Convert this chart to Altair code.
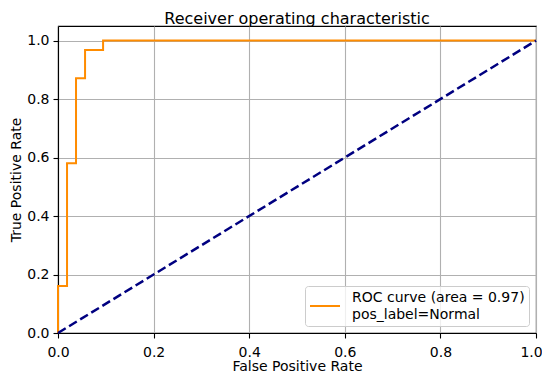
import altair as alt
import pandas as pd

fpr = [0.0, 0.0, 0.0189, 0.0189, 0.0377, 0.0377, 0.0566, 0.0566, 0.0943, 0.0943, 1.0]
tpr = [0.0, 0.161, 0.161, 0.581, 0.581, 0.871, 0.871, 0.968, 0.968, 1.0, 1.0]
diag_x = [0.0, 1.0]
diag_y = [0.0, 1.0]
roc_label = "ROC curve (area = 0.97)|pos_label=Normal"
ticks = [0.0, 0.2, 0.4, 0.6, 0.8, 1.0]

roc = pd.DataFrame({"fpr": fpr, "tpr": tpr, "i": list(range(len(fpr))), "series": roc_label})
diag = pd.DataFrame({"fpr": diag_x, "tpr": diag_y, "i": [0, 1]})

FONT = "DejaVu Sans"

xscale = alt.Scale(domain=[0, 1], nice=False, zero=False)
yscale = alt.Scale(domain=[0, 1.05], nice=False, zero=False)

xaxis = alt.Axis(
    title="False Positive Rate", values=ticks, format=".1f", grid=True, labelFlush=False,
    labelPadding=7, titlePadding=0.5,
    labelOffset={"condition": {"test": "datum.value == 1", "value": -5}, "value": 0},
)
yaxis = alt.Axis(
    title="True Positive Rate", values=ticks, format=".1f", grid=True, labelFlush=False,
    labelPadding=4, titlePadding=3.5,
)

line = alt.Chart(roc).mark_line(strokeWidth=2).encode(
    x=alt.X("fpr:Q", scale=xscale, axis=xaxis),
    y=alt.Y("tpr:Q", scale=yscale, axis=yaxis),
    order="i:Q",
    color=alt.Color(
        "series:N",
        scale=alt.Scale(domain=[roc_label], range=["#ff8c00"]),
        legend=alt.Legend(
            title=None,
            orient="bottom-right",
            offset=7,
            symbolType="stroke",
            symbolSize=900,
            symbolStrokeWidth=2,
            labelExpr="split(datum.label, '|')",
            labelFontSize=14,
            labelFont=FONT,
            labelColor="black",
            labelLimit=400,
            labelOffset=11,
            labelBaseline="line-bottom",
            fillColor="rgba(255,255,255,0.8)",
            strokeColor="#cccccc",
            cornerRadius=3,
            padding=4,
        ),
    ),
)

dline = alt.Chart(diag).mark_line(strokeWidth=2.5, strokeDash=[9, 4], color="#000080").encode(
    x=alt.X("fpr:Q", scale=xscale),
    y=alt.Y("tpr:Q", scale=yscale),
    order="i:Q",
)

chart = (
    alt.layer(line, dline)
    .properties(
        width=478,
        height=307,
        title=alt.TitleParams("Receiver operating characteristic", fontSize=16, font=FONT,
                              fontWeight="normal", color="black", offset=-0.5, frame="group"),
        autosize=alt.AutoSizeParams(type="none"),
        padding={"left": 50, "top": 18, "right": 6, "bottom": 41},
        background="white",
    )
    .configure(style={"guide-label": {"lineHeight": 16.5}})
    .configure_view(stroke="black", strokeWidth=1.1)
    .configure_axis(
        labelFont=FONT,
        labelFontSize=14,
        labelColor="black",
        titleFont=FONT,
        titleFontSize=14,
        titleFontWeight="normal",
        titleColor="black",
        tickColor="black",
        tickSize=5,
        tickWidth=1.1,
        domainColor="black",
        domainWidth=1.1,
        gridColor="#b0b0b0",
        gridWidth=1.1,
    )
)

chart.save("out.html", embed_options={"renderer": "svg", "actions": False})
